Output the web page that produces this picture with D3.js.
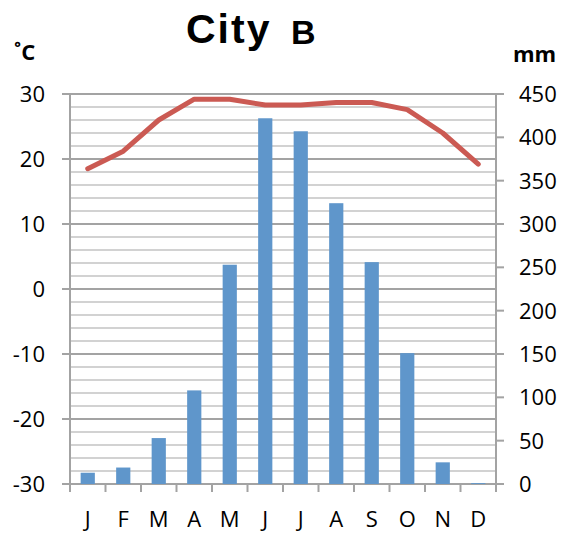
<!DOCTYPE html>
<html lang="en">
<head>
  <meta charset="UTF-8">
  <title>City B climate chart</title>
  <script src="https://d3js.org/d3.v7.min.js"></script>
  <style>
    body {
      margin: 0;
      background: #fff;
    }
    svg {
      display: block;
    }
    .tick-label {
      font-family: "Open Sans", sans-serif;
      font-size: 22px;
      fill: #000;
    }
  </style>
</head>
<body>
  <div id="chart"></div>

  <script>
    // climate data
    const months = ["J", "F", "M", "A", "M", "J", "J", "A", "S", "O", "N", "D"];
    const temperature = [18.5, 21.2, 26.0, 29.2, 29.2, 28.3, 28.3, 28.7, 28.7, 27.6, 24.0, 19.2];
    const precipitation = [13, 19, 53, 108, 253, 422, 407, 324, 256, 151, 25, 1];
    const tempTicks = [30, 20, 10, 0, -10, -20, -30];
    const precTicks = [450, 400, 350, 300, 250, 200, 150, 100, 50, 0];

    const width = 577;
    const height = 533;
    const plotLeft = 70, plotRight = 496, plotTop = 94, plotBottom = 484;

    const svg = d3.select("#chart")
      .append("svg")
      .attr("width", width)
      .attr("height", height);

    // index keys so the repeated month letters stay separate bands
    const x = d3.scaleBand()
      .domain(months.map((m, i) => i))
      .range([plotLeft, plotRight])
      .paddingInner(0.6)
      .paddingOuter(0.3);

    const yT = d3.scaleLinear().domain([-30, 30]).range([plotBottom, plotTop]);
    const yP = d3.scaleLinear().domain([0, 450]).range([plotBottom, plotTop]);

    // gridlines every 2 degrees, darker every 10
    const grid = d3.range(-30, 31, 2);
    svg.append("g")
      .selectAll("line")
      .data(grid)
      .join("line")
      .attr("x1", plotLeft)
      .attr("x2", plotRight)
      .attr("y1", d => yT(d))
      .attr("y2", d => yT(d))
      .attr("stroke", d => d % 10 === 0 ? "#a3a3a3" : "#d2d2d2")
      .attr("stroke-width", 2);

    // axes lines
    const axisColor = "#a3a3a3";
    svg.append("line")
      .attr("x1", plotLeft).attr("x2", plotLeft)
      .attr("y1", plotTop).attr("y2", plotBottom + 8)
      .attr("stroke", axisColor).attr("stroke-width", 2);
    svg.append("line")
      .attr("x1", plotRight).attr("x2", plotRight)
      .attr("y1", plotTop).attr("y2", plotBottom + 8)
      .attr("stroke", axisColor).attr("stroke-width", 2);

    // left ticks
    svg.append("g")
      .selectAll("line")
      .data(tempTicks)
      .join("line")
      .attr("x1", plotLeft - 8).attr("x2", plotLeft)
      .attr("y1", d => yT(d)).attr("y2", d => yT(d))
      .attr("stroke", axisColor).attr("stroke-width", 2);

    // right ticks
    svg.append("g")
      .selectAll("line")
      .data(precTicks)
      .join("line")
      .attr("x1", plotRight).attr("x2", plotRight + 8)
      .attr("y1", d => yP(d)).attr("y2", d => yP(d))
      .attr("stroke", axisColor).attr("stroke-width", 2);

    // bottom ticks at band edges
    const step = x.step();
    const edges = d3.range(months.length + 1).map(i => plotLeft + i * step);
    svg.append("g")
      .selectAll("line")
      .data(edges)
      .join("line")
      .attr("x1", d => d).attr("x2", d => d)
      .attr("y1", plotBottom).attr("y2", plotBottom + 8)
      .attr("stroke", axisColor).attr("stroke-width", 2);

    // precipitation bars
    svg.append("g")
      .selectAll("rect")
      .data(precipitation)
      .join("rect")
      .attr("x", (d, i) => x(i))
      .attr("width", x.bandwidth())
      .attr("y", d => yP(d))
      .attr("height", d => plotBottom - yP(d))
      .attr("fill", "#5f96cb");

    // temperature line
    const line = d3.line()
      .x((d, i) => x(i) + x.bandwidth() / 2)
      .y(d => yT(d));

    svg.append("path")
      .datum(temperature)
      .attr("d", line)
      .attr("fill", "none")
      .attr("stroke", "#cb5a53")
      .attr("stroke-width", 5)
      .attr("stroke-linejoin", "round")
      .attr("stroke-linecap", "round");

    // tick labels
    svg.append("g")
      .selectAll("text")
      .data(tempTicks)
      .join("text")
      .attr("class", "tick-label")
      .attr("x", 45)
      .attr("y", d => yT(d) + 2)
      .attr("text-anchor", "end")
      .attr("dominant-baseline", "middle")
      .text(d => d);

    svg.append("g")
      .selectAll("text")
      .data(precTicks)
      .join("text")
      .attr("class", "tick-label")
      .attr("x", 519)
      .attr("y", d => yP(d) + 2)
      .attr("text-anchor", "start")
      .attr("dominant-baseline", "middle")
      .text(d => d);

    svg.append("g")
      .selectAll("text")
      .data(months)
      .join("text")
      .attr("class", "tick-label")
      .attr("x", (d, i) => x(i) + x.bandwidth() / 2)
      .attr("y", 527)
      .attr("text-anchor", "middle")
      .text(d => d);

    // units
    svg.append("text")
      .attr("x", 14).attr("y", 60)
      .style("font-family", "'Open Sans', sans-serif")
      .style("font-weight", "bold")
      .style("font-size", "22px")
      .text("˚C");

    svg.append("text")
      .attr("x", 513).attr("y", 62)
      .style("font-family", "'Open Sans', sans-serif")
      .style("font-weight", "bold")
      .style("font-size", "22px")
      .text("mm");

    // title
    svg.append("text")
      .attr("x", 186).attr("y", 43)
      .style("font-family", "'Liberation Sans', Arial, sans-serif")
      .style("font-weight", "bold")
      .style("font-size", "41px")
      .style("letter-spacing", "2px")
      .text("City");

    svg.append("text")
      .attr("x", 291).attr("y", 44)
      .style("font-family", "'Liberation Sans', Arial, sans-serif")
      .style("font-weight", "bold")
      .style("font-size", "34px")
      .text("B");
  </script>
</body>
</html>
